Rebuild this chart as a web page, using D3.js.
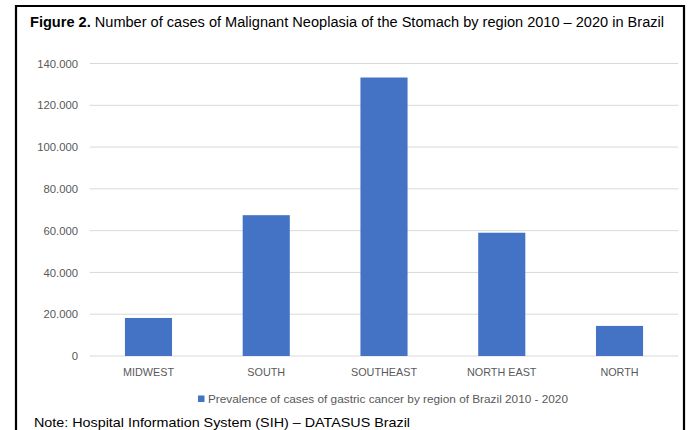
<!DOCTYPE html>
<html><head><meta charset="utf-8">
<script src="https://cdn.jsdelivr.net/npm/d3@7"></script>
<style>body{margin:0;background:#fff}svg{display:block}</style>
</head><body>
<script>
const categories = ["MIDWEST", "SOUTH", "SOUTHEAST", "NORTH EAST", "NORTH"];
const cases = [18200, 67400, 133300, 59000, 14400];
const yTicks = [0, 20000, 40000, 60000, 80000, 100000, 120000, 140000];
const tickLabels = ["0", "20.000", "40.000", "60.000", "80.000", "100.000", "120.000", "140.000"];
const seriesName = "Prevalence of cases of gastric cancer by region of Brazil 2010 - 2020";
const titleBold = "Figure 2.";
const titleRest = " Number of cases of Malignant Neoplasia of the Stomach by region 2010 – 2020 in Brazil";
const note = "Note: Hospital Information System (SIH) – DATASUS Brazil";

const W = 690, H = 430;
const font = "'Liberation Sans', Arial, sans-serif";
const svg = d3.select("body").append("svg").attr("width", W).attr("height", H);
svg.append("rect").attr("width", W).attr("height", H).attr("fill", "#fff");

// frame
svg.append("path").attr("d", "M16,430 V6 H684 V430")
  .attr("fill", "none").attr("stroke", "#000").attr("stroke-width", 2.2);

const title = svg.append("text").attr("x", 30).attr("y", 27)
  .attr("font-family", font).attr("font-size", 14).attr("fill", "#000")
  .attr("textLength", 634).attr("lengthAdjust", "spacingAndGlyphs");
title.append("tspan").attr("font-weight", "bold").text(titleBold);
title.append("tspan").text(titleRest);

const x = d3.scaleBand().domain(categories).range([89.6, 678.4]).paddingInner(0.6).paddingOuter(0.3);
const y = d3.scaleLinear().domain([0, 140000]).range([356, 63.5]);

// gridlines
svg.append("g").selectAll("line").data(yTicks).join("line")
  .attr("x1", 89.6).attr("x2", 678.4)
  .attr("y1", d => y(d)).attr("y2", d => y(d))
  .attr("stroke", "#d9d9d9").attr("stroke-width", 1);

// y axis labels
const yAxis = d3.axisLeft(y).tickValues(yTicks).tickSize(0).tickPadding(0)
  .tickFormat((d, i) => tickLabels[i]);
const gy = svg.append("g").attr("transform", "translate(78,0)").call(yAxis);
gy.select(".domain").remove();
gy.selectAll("text").attr("font-family", font).attr("font-size", 11.3).attr("fill", "#595959");

// bars
svg.append("g").selectAll("rect").data(categories).join("rect")
  .attr("x", d => x(d)).attr("width", x.bandwidth())
  .attr("y", (d, i) => y(cases[i])).attr("height", (d, i) => y(0) - y(cases[i]))
  .attr("fill", "#4472c4");

// x axis labels
const xAxis = d3.axisBottom(x).tickSize(0).tickPadding(0);
const gx = svg.append("g").attr("transform", "translate(0,368)").call(xAxis);
gx.select(".domain").remove();
gx.selectAll("text").attr("font-family", font).attr("font-size", 10.8).attr("fill", "#595959");

// legend
svg.append("rect").attr("x", 198).attr("y", 395.5).attr("width", 6.5).attr("height", 6.5).attr("fill", "#4472c4");
svg.append("text").attr("x", 208).attr("y", 403).attr("font-family", font)
  .attr("font-size", 11).attr("fill", "#595959")
  .attr("textLength", 360).attr("lengthAdjust", "spacingAndGlyphs").text(seriesName);

// note
svg.append("text").attr("x", 34).attr("y", 427).attr("font-family", font)
  .attr("font-size", 13.5).attr("fill", "#000")
  .attr("textLength", 376).attr("lengthAdjust", "spacingAndGlyphs").text(note);
</script>
</body></html>
